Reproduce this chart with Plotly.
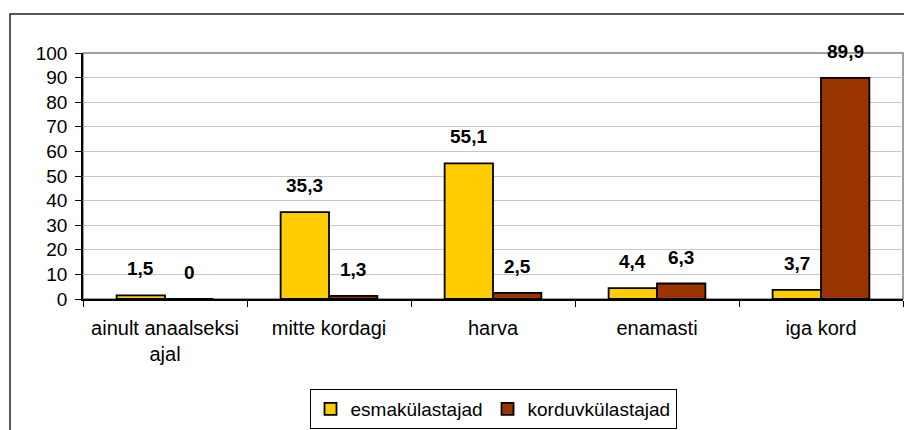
import plotly.graph_objects as go

categories = ['ainult anaalseksi<br>ajal', 'mitte kordagi', 'harva', 'enamasti', 'iga kord']
series_names = ['esmakülastajad', 'korduvkülastajad']
esma_values = [1.5, 35.3, 55.1, 4.4, 3.7]
korduv_values = [0, 1.3, 2.5, 6.3, 89.9]
y_ticks = [0, 10, 20, 30, 40, 50, 60, 70, 80, 90, 100]

COLORS = ['#FFCC00', '#993300']
FONT = 'Arial, Liberation Sans, sans-serif'
BARGAP = 0.41
# the page body has an 8px margin, so the figure is drawn 8px in from the window edge
W, H = 904, 422
ML, MR, MT, MB = 75, 9, 45, 131
PW, PH = W - ML - MR, H - MT - MB


def fmt(v):
    return ('%g' % v).replace('.', ',')


fig = go.Figure()
for name, values, color in zip(series_names, [esma_values, korduv_values], COLORS):
    fig.add_trace(
        go.Bar(
            x=categories,
            y=values,
            name=name,
            marker={'color': color, 'line': {'color': '#000000', 'width': 1.8}},
        )
    )

# data labels above the bars, Excel style
half = (1 - BARGAP) / 4
annotations = []
for s, values in enumerate([esma_values, korduv_values]):
    offset = -half if s == 0 else half
    for i, v in enumerate(values):
        annotations.append({
            'x': i + offset, 'y': v, 'xref': 'x', 'yref': 'y',
            'text': '<b>' + fmt(v) + '</b>', 'showarrow': False,
            'yanchor': 'bottom', 'yshift': 14,
            'font': {'size': 19, 'color': '#000000', 'family': FONT},
        })

shapes = [
    # plot area frame (grey top/right)
    {'type': 'rect', 'xref': 'x domain', 'yref': 'y domain', 'x0': 0, 'x1': 1, 'y0': 0, 'y1': 1,
     'line': {'color': '#808080', 'width': 1.5}, 'layer': 'below'},
    # chart outer border (left/top visible, right/bottom run off the page)
    {'type': 'rect', 'xref': 'paper', 'yref': 'paper',
     'x0': (2 - ML) / PW, 'x1': (W + 10 - ML) / PW,
     'y0': -(MB + 10) / PH, 'y1': (MT - 6 + PH) / PH,
     'line': {'color': '#222222', 'width': 1.5}},
]

fig.update_layout(
    width=W,
    height=H,
    paper_bgcolor='#ffffff',
    plot_bgcolor='#ffffff',
    margin={'l': ML, 'r': MR, 't': MT, 'b': MB, 'autoexpand': False},
    barmode='group',
    bargap=BARGAP,
    bargroupgap=0,
    font={'family': FONT, 'size': 19, 'color': '#000000'},
    showlegend=True,
    legend={
        'orientation': 'h',
        'x': 0.5, 'xanchor': 'center',
        'y': -90 / PH, 'yanchor': 'top',
        'bordercolor': '#000000', 'borderwidth': 1,
        'font': {'size': 19, 'family': FONT},
        'itemwidth': 30,
        'tracegroupgap': 0,
    },
    xaxis={
        'type': 'category',
        'showline': True, 'linecolor': '#000000', 'linewidth': 1.5,
        'ticks': 'outside', 'ticklen': 6, 'tickcolor': '#000000', 'tickwidth': 1,
        'tickson': 'boundaries',
        'showgrid': False,
        'tickfont': {'size': 20},
        'ticklabelstandoff': 10,
    },
    yaxis={
        'range': [0, 100],
        'tickvals': y_ticks,
        'showline': True, 'linecolor': '#000000', 'linewidth': 1.5,
        'ticks': 'outside', 'ticklen': 6, 'tickcolor': '#000000', 'tickwidth': 1,
        'showgrid': True, 'gridcolor': '#c8c8c8', 'gridwidth': 1,
        'zeroline': False,
        'tickfont': {'size': 19},
        'ticklabelstandoff': 4,
    },
    annotations=annotations,
    shapes=shapes,
)

fig.write_html('out.html')
